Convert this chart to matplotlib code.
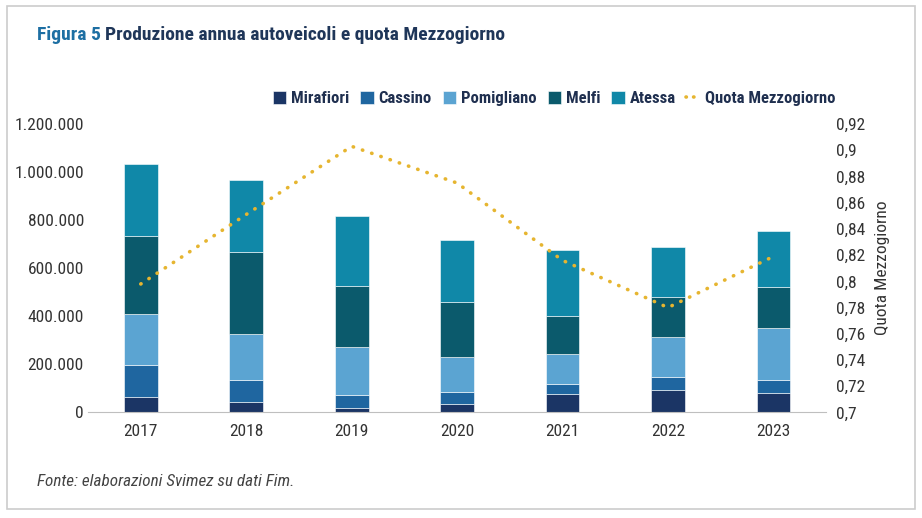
import matplotlib.pyplot as plt
from matplotlib.patches import Rectangle
from matplotlib.ticker import FuncFormatter, FixedLocator
import numpy as np

# dati
anni = ['2017', '2018', '2019', '2020', '2021', '2022', '2023']
mirafiori = [65000, 42000, 17000, 34000, 76000, 92000, 83000]
cassino = [134000, 95000, 57000, 53000, 44000, 57000, 51000]
pomigliano = [209000, 189000, 200000, 144000, 125000, 164000, 217000]
melfi = [325000, 340000, 252000, 228000, 158000, 167000, 169000]
atessa = [300000, 300000, 293000, 260000, 271000, 207000, 233000]
quota = [0.798, 0.851, 0.903, 0.875, 0.816, 0.780, 0.819]

serie = [mirafiori, cassino, pomigliano, melfi, atessa]
nomi = ['Mirafiori', 'Cassino', 'Pomigliano', 'Melfi', 'Atessa']
colori = ['#1b3565', '#1f66a0', '#5ba4d2', '#0b5a6c', '#1088a8']

plt.rcParams['font.family'] = ['Roboto Condensed', 'Liberation Sans Narrow',
                               'DejaVu Sans Condensed', 'Lato', 'DejaVu Sans']
testo = '#333333'

fig = plt.figure(figsize=(9.22, 5.18), dpi=100)
fig.patches.append(Rectangle((0.008, 0.017), 0.984, 0.972, transform=fig.transFigure,
                             fill=False, edgecolor='#cccccc', linewidth=1.2))

ax = fig.add_axes([0.0955, 0.2037, 0.8005, 0.5569])
x = np.arange(len(anni))
base = np.zeros(len(anni))
for vals, nome, col in zip(serie, nomi, colori):
    ax.bar(x, vals, 0.32, bottom=base, color=col, label=nome,
           edgecolor='white', linewidth=0.4)
    base = base + np.array(vals)

ax.set_xlim(-0.5, len(anni) - 0.5)
ax.set_ylim(0, 1200000)
ax.set_yticks(np.arange(0, 1200001, 200000))
ax.yaxis.set_major_formatter(FuncFormatter(lambda v, p: f'{int(v):,}'.replace(',', '.')))
ax.set_xticks(x)
ax.set_xticklabels(anni)
for s in ['top', 'right', 'left']:
    ax.spines[s].set_visible(False)
ax.spines['bottom'].set_color('#bfbfbf')
ax.tick_params(axis='both', length=0, labelsize=12.5, colors=testo)
ax.tick_params(axis='x', pad=8)
ax.tick_params(axis='y', pad=3)

ax2 = ax.twinx()
ax2.plot(x, quota, color='#e6b530', linewidth=2.6, linestyle=(0, (0.1, 2.6)),
         dash_capstyle='round', label='Quota Mezzogiorno')
ax2.set_ylim(0.7, 0.92)
ax2.yaxis.set_major_locator(FixedLocator(np.round(np.arange(0.70, 0.921, 0.02), 2)))
ax2.yaxis.set_major_formatter(FuncFormatter(lambda v, p: f'{v:.2f}'.rstrip('0').replace('.', ',')))
for s in ['top', 'right', 'left', 'bottom']:
    ax2.spines[s].set_visible(False)
ax2.tick_params(axis='y', length=0, labelsize=12.5, colors=testo, pad=7)
ax2.set_ylabel('Quota Mezzogiorno', fontsize=12.5, color=testo, labelpad=7)

h1, l1 = ax.get_legend_handles_labels()
h2, l2 = ax2.get_legend_handles_labels()
leg = fig.legend(h1 + h2, l1 + l2, loc='center', bbox_to_anchor=(0.601, 0.81), ncol=6,
                 frameon=False, handlelength=0.8, handleheight=0.8,
                 handletextpad=0.3, columnspacing=0.65, labelcolor='#1f2f4f',
                 prop={'weight': 'bold', 'size': 12})
leg.legend_handles[-1].set_linestyle((0, (0.1, 2.0)))
leg.legend_handles[-1].set_linewidth(2.6)

t1 = fig.text(0.04, 0.933, 'Figura 5', fontsize=14, fontweight='bold', color='#1d6fa3', va='center')
fig.canvas.draw()
bb = t1.get_window_extent().transformed(fig.transFigure.inverted())
fig.text(bb.x1 + 0.005, 0.933, 'Produzione annua autoveicoli e quota Mezzogiorno', fontsize=14,
         fontweight='bold', color='#1f3659', va='center')
fig.text(0.04, 0.071, 'Fonte: elaborazioni Svimez su dati Fim.', fontsize=12.3,
         style='italic', color='#444444', va='center')

fig.savefig('out.png', dpi=100)
